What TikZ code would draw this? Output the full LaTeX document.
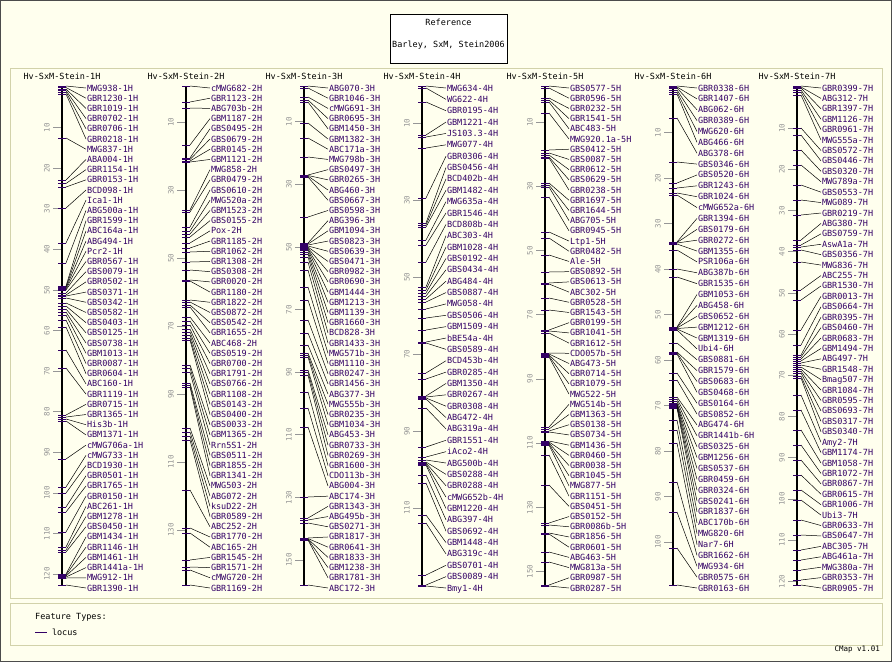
\documentclass[tikz,border=0pt]{standalone}
\usepackage{fontspec}
\newfontfamily\pixfont{DejaVu Sans Mono}
\definecolor{bgc}{RGB}{255,255,238}
\definecolor{labc}{RGB}{51,0,102}
\definecolor{tickc}{RGB}{150,150,150}
\definecolor{framec}{RGB}{210,210,170}
\newcommand\mapcol[9]{%
  \node[ttl] (t#1) at (#2,76) {Hv-SxM-Stein-#4};
  \draw[axisline] (#2,86) coordinate (top#1) -- (#2,585) coordinate (bot#1);
  \foreach \v in {#6} {
    \draw[tickline] ({#2-9},{#3+#5*\v}) -- ({#2-1},{#3+#5*\v});
    \node[ticklab] at ({#2-15},{#3+#5*\v}) {\v};
  }
  \foreach \nm/\fy [count=\i] in {#7} {
    \coordinate (f#1-\i) at (#2,\fy);
    \node[lab] (l#1-\i) at ({#2+24},{88+(\i-1)*#8}) {\nm-#4};
    \draw[feat] ({#2-4},\fy) -- ({#2+4},\fy);
    \draw[conn] ({#2+4},\fy) -- (l#1-\i.west);
  }
}
\begin{document}
\begin{tikzpicture}[x=1pt,y=-1pt,
  lab/.style={font=\pixfont\fontsize{8.5}{8.5}\selectfont, text=labc, anchor=west, inner xsep=0.8pt, inner ysep=0pt, text height=6pt, text depth=0pt},
  ttl/.style={font=\pixfont\fontsize{8.5}{8.5}\selectfont, text=black, inner sep=0pt},
  ticklab/.style={font=\pixfont\fontsize{7.5}{7.5}\selectfont, text=tickc, rotate=90, inner sep=0pt},
  tickline/.style={draw=tickc, line width=0.8pt},
  axisline/.style={draw=black, line width=2.6pt},
  feat/.style={draw=labc, line width=0.9pt},
  conn/.style={draw=black, line width=0.5pt},
  frame/.style={draw=framec, line width=1pt}]
\fill[bgc] (0,0) rectangle (892,662);
\draw[black!70, line width=1pt] (0.5,0.5) rectangle (891.5,661.5);
\node[draw=black, fill=white, minimum width=117pt, minimum height=49pt, inner sep=0pt] (refbox) at (448.5,38.5) {};
\node[ttl] (reft) at (448.5,22) {Reference};
\node[ttl] (refs) at (448.5,45) {Barley, SxM, Stein2006};
\draw[frame] (10,68) rectangle (882,598);
\draw[frame] (10,603) rectangle (882,645);

\mapcol{a}{62}{87}{1H}{4.06}{10,20,...,120}{MWG938/86, GBR1230/87.5, GBR1019/89, GBR0702/90.5, GBR0706/92, GBR0218/94, MWG837/138, ABA004/180, GBR1154/183.5, GBR0153/187, BCD098/208, Ica1/243, ABG500a/263, GBR1599/286, ABC164a/287, ABG494/288, Pcr2/289, GBR0567/290, GBS0079/293, GBR0502/295, GBS0371/296, GBS0342/298, GBS0582/303, GBS0403/306, GBS0125/309, GBS0738/312, GBM1013/315, GBR0087/320, GBR0604/327, ABC160/350, GBR1119/368, GBR0715/415, GBR1365/417, His3b/419, GBM1371/421, cMWG706a/459, cMWG733/487, BCD1930/493, GBR0501/507, GBR1765/512, GBR0150/532, ABC261/547, GBM1278/550, GBS0450/552, GBM1434/574, GBR1146/575, GBM1461/576, GBR1441a/577, MWG912/578, GBR1390/585}{10.204}{}

\mapcol{b}{186}{88}{2H}{3.4}{10,30,...,130}{cMWG682/86, GBR1123/102, ABG703b/108, GBM1187/145, GBS0495/158, GBS0679/159.5, GBR0145/161, GBM1121/162, MWG858/210, GBR0479/212, GBS0610/227, MWG520a/231, GBM1523/234, GBS0155/237, Pox/243, GBR1185/248, GBR1062/252, GBR1308/262, GBS0308/270, GBR0020/280, GBR1180/281, GBR1822/300, GBS0872/302, GBS0542/305, GBR1655/307, ABC468/317, GBS0519/321, GBR0700/325, GBR1791/329, GBS0766/332, GBR1108/335, GBS0143/338, GBS0400/340, GBS0033/365, GBM1365/368, Rrn5S1/372, GBS0511/383, GBR1855/385, GBR1341/387, MWG503/428, ABG072/432, ksuD22/436, GBR0589/440, ABC252/490, GBR1770/528, ABC165/533, GBR1545/560, GBR1571/567, cMWG720/570, GBR1169/585}{10.204}{}

\mapcol{c}{304}{90.5}{3H}{3.13}{10,30,...,150}{ABG070/86, GBR1046/88, cMWG691/97, GBR0695/100, GBM1450/102, GBM1382/123, ABC171a/138, MWG798b/157, GBS0497/175, GBR0265/175.5, ABG460/176, GBS0667/177, GBS0598/217, ABG396/243, GBM1094/244, GBS0823/245, GBS0639/246, GBS0471/247, GBR0982/248, GBR0690/249, GBM1444/250, GBM1213/252, GBM1139/254, GBR1660/257, BCD828/262, GBR1433/270, MWG571b/287, GBM1110/300, GBR0247/320, GBR1456/333, ABG377/345, MWG555b/353, GBR0235/355, GBM1034/357, ABG453/370, GBR0733/372, GBR0269/375, GBR1600/392, CDO113b/408, ABG004/427, ABC174/497, GBR1343/518, ABG495b/520, GBS0271/523, GBR1817/538, GBR0641/538.5, GBR1833/539, GBM1238/539.5, GBR1781/540, ABC172/585}{10.204}{}

\mapcol{d}{422}{84.5}{4H}{3.85}{10,30,...,110}{MWG634/86, WG622/88, GBR0195/102, GBM1221/135, JS103.3/137, MWG077/148, GBR0306/198, GBS0456/223, BCD402b/225, GBM1482/227, MWG635a/240, GBR1546/245, BCD808b/262, ABC303/287, GBM1028/290, GBS0192/293, GBS0434/296, ABG484/299, GBS0887/302, MWG058/309, GBS0506/318, GBM1509/330, bBE54a/342, GBS0589/343, BCD453b/373, GBR0285/379, GBM1350/396, GBR0267/397, GBR0308/398, ABG472/399, ABG319a/408, GBR1551/447, iAco2/457, ABG500b/460, GBS0288/462, GBR0288/463, cMWG652b/464, GBM1220/465, ABG397/475, GBS0692/483, GBM1448/515, ABG319c/523, GBS0701/575, GBS0089/585, Bmy1/586}{11.364}{}

\mapcol{e}{545}{90}{5H}{3.21}{10,30,...,150}{GBS0577/86, GBR0596/88, GBR0232/98, GBR1541/100, ABC483/102, MWG920.1a/113, GBS0412/150, GBS0087/153, GBR0612/155, GBS0629/157, GBR0238/158, GBR1697/183, GBR1644/185, ABG705/187, GBR0945/197, Ltp1/232, GBR0482/238, Ale/255, GBS0892/272, GBS0613/283, ABC302/284, GBR0528/298, GBR1543/310, GBR0199/330, GBR1041/331, GBR1612/333, CDO057b/353, ABG473/354, GBR0714/355, GBR1079/356, MWG522/357, MWG514b/427, GBM1363/429, GBS0138/431, GBS0734/432, GBM1436/441, GBR0460/442, GBR0038/443, GBR1045/444, MWG877/445, GBR1151/455, GBS0451/485, GBS0152/523, GBR0086b/525, GBR1856/533, GBR0601/534, ABG463/552, MWG813a/562, GBR0987/585, GBR0287/586}{10.204}{}

\mapcol{f}{673}{87}{6H}{4.55}{10,20,...,100}{GBR0338/86, GBR1407/87, ABG062/88, GBR0389/90, MWG620/92, ABG466/94, ABG378/118, GBS0346/162, GBS0520/183, GBR1243/188, GBR1024/193, cMWG652a/195, GBR1394/242, GBS0179/242.5, GBR0272/243, GBM1355/244, PSR106a/250, ABG387b/269, GBR1535/277, GBM1053/327, ABG458/327.5, GBS0652/328, GBM1212/328.5, GBM1319/329, Ubi4/330, GBS0881/343, GBR1579/352, GBS0683/353, GBS0468/354, GBS0164/373, GBS0852/380, ABG474/397, GBR1441b/399, GBS0325/401, GBM1256/403, GBS0537/404, GBR0459/405, GBR0324/406, GBS0241/407, GBR1837/408, ABC170b/420, MWG820/430, Nar7/443, GBR1662/482, MWG934/512, GBR0575/548, GBR0163/585}{10.870}{}

\mapcol{g}{797}{87}{7H}{4.12}{10,20,...,120}{GBR0399/86, ABG312/87, GBR1397/88, GBM1126/90, GBR0961/92, MWG555a/95, GBS0572/128, GBS0446/135, GBS0320/150, MWG789a/165, GBS0553/185, MWG089/200, GBR0219/215, ABG380/240, GBS0759/245, AswA1a/247, GBS0356/250, MWG836/262, ABC255/290, GBR1530/300, GBR0013/330, GBS0664/345, GBR0395/355, GBS0460/357, GBR0683/359, GBM1494/361, ABG497/363, GBR1548/365, Bmag507/367, GBR1084/369, GBR0595/371, GBS0693/373, GBS0317/376, GBS0340/378, Amy2/395, GBM1174/410, GBM1058/430, GBR1072/445, GBR0867/460, GBR0615/475, GBR1006/490, Ubi3/500, GBR0633/520, GBS0647/535, ABC305/550, ABG461a/560, MWG380a/570, GBR0353/580, GBR0905/585}{10.417}{}

\node[ttl, anchor=west] (ftypes) at (35,617) {Feature Types:};
\coordinate (lg1) at (35,632);
\coordinate (lg2) at (47,632);
\draw[feat, line width=1pt] (lg1) -- (lg2);
\node[lab, text=black, anchor=west] (locus) at (51,632) {locus};
\node[ttl, anchor=east, font=\pixfont\fontsize{7.5}{7.5}\selectfont] (ver) at (880,649) {CMap v1.01};
\end{tikzpicture}
\end{document}
